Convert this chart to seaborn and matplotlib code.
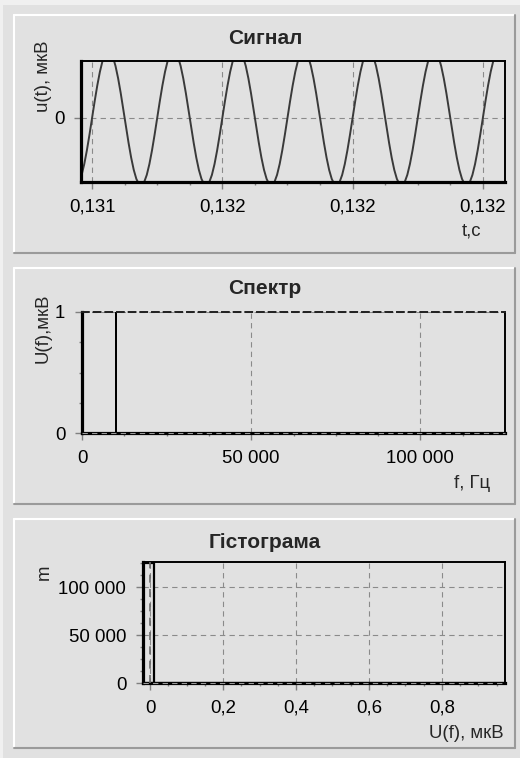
import numpy as np
import matplotlib
matplotlib.use("Agg")
import matplotlib.pyplot as plt
import seaborn as sns
from matplotlib.ticker import FixedLocator, MultipleLocator, FuncFormatter
from matplotlib.lines import Line2D
from matplotlib.patches import Rectangle

# ---- data -------------------------------------------------------------
sample_rate_hz = 250000
tone_freq_hz = [10000]          # spectral components of the test signal
tone_amp_uv = [1.0]
signal_window_s = [0.13138, 0.13204]

signal_ticks_s = [0.1314, 0.1316, 0.1318, 0.1320]

spec_freq_hz = [0, 9999, 10000, 10001, 124999]
spec_amp_uv = [0, 0, 1, 0, 0]

hist_values_uv = [0.0, 1.0]
hist_counts = [124999, 1]
hist_edges_uv = [-0.019, 0.011, 0.985, 1.015]

# ---- style ------------------------------------------------------------
sns.set_theme(style="white")
plt.rcParams['font.family'] = ['Liberation Sans', 'DejaVu Sans']

BG = '#e1e1e1'
GRID = '#8a8a8a'
TICK = '#808080'
FS = 13.4
FS_TITLE = 15.0
DASH = (0, (4.8, 3.8))
W, H = 520, 758


def fx(x):
    return x / W


def fy(y):
    return 1 - y / H


def axes_at(left, top, right, bottom):
    return fig.add_axes([fx(left), fy(bottom), (right - left) / W, (bottom - top) / H])


def thousands(v, p):
    return f"{v:,.0f}".replace(',', ' ')


def comma_dec(nd):
    def f(v, p):
        if abs(v) < 1e-12:
            return "0"
        return f"{v:.{nd}f}".replace('.', ',')
    return f


fig = plt.figure(figsize=(W / 100, H / 100), dpi=100, facecolor=BG)

# light strip along the top/left edge of the window
fig.patches.append(Rectangle((0, fy(5)), 1, 5 / H, transform=fig.transFigure,
                             facecolor='#f0f0f0', edgecolor='none', zorder=0))
fig.patches.append(Rectangle((0, 0), 3 / W, 1, transform=fig.transFigure,
                             facecolor='#f0f0f0', edgecolor='none', zorder=0))

# raised group panels
panels = [(14, 15, 515, 253), (14, 268, 515, 504), (14, 519, 515, 748)]
for (x0, y0, x1, y1) in panels:
    fig.lines.append(Line2D([fx(x0), fx(x1)], [fy(y0), fy(y0)], transform=fig.transFigure,
                            color='white', lw=1.5))
    fig.lines.append(Line2D([fx(x0), fx(x0)], [fy(y0), fy(y1)], transform=fig.transFigure,
                            color='white', lw=1.5))
    fig.lines.append(Line2D([fx(x0), fx(x1)], [fy(y1), fy(y1)], transform=fig.transFigure,
                            color='#9a9a9a', lw=1.5))
    fig.lines.append(Line2D([fx(x1), fx(x1)], [fy(y0), fy(y1)], transform=fig.transFigure,
                            color='#9a9a9a', lw=1.5))


def style_axes(ax, dashed_base=False):
    ax.set_facecolor(BG)
    ax.set_axisbelow(True)
    for s in ['left', 'bottom']:
        ax.spines[s].set_visible(True)
        ax.spines[s].set_color('black')
        ax.spines[s].set_linewidth(2.3)
    for s in ['top', 'right']:
        ax.spines[s].set_visible(True)
        ax.spines[s].set_color('black')
        ax.spines[s].set_linewidth(1.4)
    ax.tick_params(which='major', direction='out', length=5, width=1, color=TICK,
                   pad=7, labelsize=FS, labelcolor='black', bottom=True, left=True)
    ax.tick_params(which='minor', direction='out', length=2.5, width=1, color=TICK,
                   bottom=True, left=True)
    ax.grid(True, which='major', color=GRID, lw=0.8, ls=DASH)
    ax.grid(False, which='minor')
    ax.set_xlabel('')
    ax.set_ylabel('')
    if dashed_base:
        # zero grid line drawn over the heavy baseline
        ax.axhline(0, color='#9a9a9a', lw=0.8, ls=DASH, clip_on=False, zorder=4)


# ---- Signal -----------------------------------------------------------
n0 = int(signal_window_s[0] * sample_rate_hz)
n1 = int(np.ceil(signal_window_s[1] * sample_rate_hz))
t = np.arange(n0, n1 + 1) / sample_rate_hz
u = np.zeros_like(t)
for f, a in zip(tone_freq_hz, tone_amp_uv):
    u += a * np.sin(2 * np.pi * f * t)

ax1 = axes_at(81, 61, 505, 182)
sns.lineplot(x=t, y=u, ax=ax1, color='#3a3a3a', lw=1.4, estimator=None, sort=False)
ax1.set_xlim(0.131383, 0.132034)
ax1.set_ylim(-0.95, 0.845)
ax1.xaxis.set_major_locator(FixedLocator(signal_ticks_s))
ax1.xaxis.set_minor_locator(MultipleLocator(0.00005))
ax1.xaxis.set_major_formatter(FuncFormatter(comma_dec(3)))
ax1.yaxis.set_major_locator(FixedLocator([0]))
ax1.yaxis.set_major_formatter(FuncFormatter(lambda v, p: "0"))
style_axes(ax1)
ax1.tick_params(axis='y', which='minor', left=False)

# ---- Spectrum ---------------------------------------------------------
ax2 = axes_at(82, 312, 505, 433)
sns.lineplot(x=spec_freq_hz, y=spec_amp_uv, ax=ax2, color='black', lw=1.0,
             estimator=None, sort=False)
ax2.set_xlim(0, 124999)
ax2.set_ylim(0, 1)
ax2.xaxis.set_major_locator(FixedLocator([0, 50000, 100000]))
ax2.xaxis.set_minor_locator(MultipleLocator(12500))
ax2.xaxis.set_major_formatter(FuncFormatter(thousands))
ax2.yaxis.set_major_locator(FixedLocator([0, 1]))
ax2.yaxis.set_minor_locator(MultipleLocator(0.25))
ax2.yaxis.set_major_formatter(FuncFormatter(lambda v, p: f"{v:.0f}"))
style_axes(ax2, dashed_base=True)
ax2.spines['top'].set_linestyle((0, (3.5, 2.5)))
ax2.spines['top'].set_color('#202020')

# ---- Histogram --------------------------------------------------------
ax3 = axes_at(143, 562, 505, 683)
sns.histplot(x=hist_values_uv, weights=hist_counts, bins=hist_edges_uv, ax=ax3,
             fill=False, color='black', edgecolor='black', linewidth=1.6)
ax3.set_xlim(-0.0195, 0.973)
ax3.set_ylim(0, 126400)
ax3.xaxis.set_major_locator(FixedLocator([0, 0.2, 0.4, 0.6, 0.8]))
ax3.xaxis.set_minor_locator(MultipleLocator(0.05))
ax3.xaxis.set_major_formatter(FuncFormatter(comma_dec(1)))
ax3.yaxis.set_major_locator(FixedLocator([0, 50000, 100000]))
ax3.yaxis.set_minor_locator(MultipleLocator(12500))
ax3.yaxis.set_major_formatter(FuncFormatter(thousands))
style_axes(ax3, dashed_base=True)
ax3.axvline(0, color='#6a6a6a', lw=1.2, ls=DASH, zorder=3)

# ---- titles and axis captions ----------------------------------------
for txt, y in [("Сигнал", 38.5), ("Спектр", 289), ("Гістограма", 542)]:
    fig.text(fx(265), fy(y), txt, ha='center', va='center', fontsize=FS_TITLE,
             fontweight='bold')

for txt, x, y in [("u(t), мкВ", 43, 76), ("U(f),мкВ", 43, 328.5), ("m", 44, 572)]:
    fig.text(fx(x), fy(y), txt, ha='center', va='center', rotation=90, fontsize=FS)

for txt, x, y in [("t,c", 481, 231), ("f, Гц", 490, 483), ("U(f), мкВ", 504, 733)]:
    fig.text(fx(x), fy(y), txt, ha='right', va='center', fontsize=FS)

fig.savefig("out.png", dpi=100, facecolor=BG)
